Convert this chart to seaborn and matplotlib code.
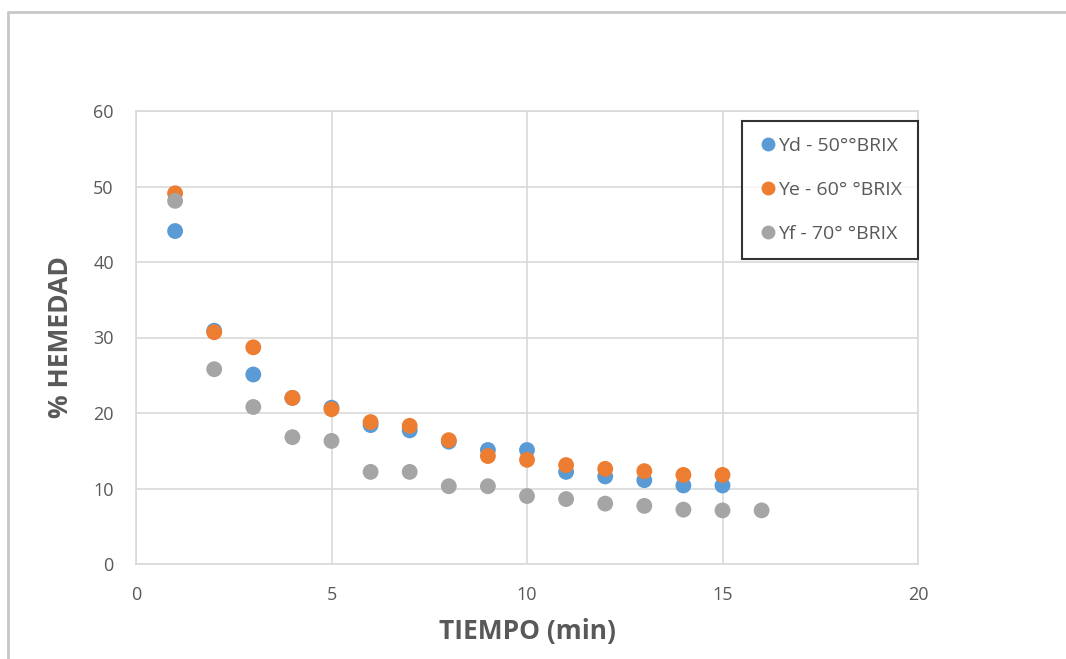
import matplotlib
matplotlib.use("Agg")
import matplotlib.pyplot as plt
import seaborn as sns
import pandas as pd
from matplotlib.lines import Line2D

tiempo_d = [1, 2, 3, 4, 5, 6, 7, 8, 9, 10, 11, 12, 13, 14, 15]
yd = [44.1, 30.9, 25.1, 22.0, 20.7, 18.4, 17.7, 16.2, 15.1, 15.1, 12.2, 11.6, 11.1, 10.4, 10.4]

tiempo_e = [1, 2, 3, 4, 5, 6, 7, 8, 9, 10, 11, 12, 13, 14, 15]
ye = [49.1, 30.7, 28.7, 22.0, 20.5, 18.8, 18.3, 16.4, 14.3, 13.8, 13.1, 12.6, 12.3, 11.8, 11.8]

tiempo_f = [1, 2, 3, 4, 5, 6, 7, 8, 9, 10, 11, 12, 13, 14, 15, 16]
yf = [48.1, 25.8, 20.8, 16.8, 16.3, 12.2, 12.2, 10.3, 10.3, 9.0, 8.6, 8.0, 7.7, 7.2, 7.1, 7.1]

series_names = ["Yd - 50°°BRIX", "Ye - 60° °BRIX", "Yf - 70° °BRIX"]
colors = ["#5B9BD5", "#ED7D31", "#A5A5A5"]

df = pd.concat([
    pd.DataFrame({"t": tiempo_d, "h": yd, "s": series_names[0]}),
    pd.DataFrame({"t": tiempo_e, "h": ye, "s": series_names[1]}),
    pd.DataFrame({"t": tiempo_f, "h": yf, "s": series_names[2]}),
])

sns.set_theme(style="white")
plt.rcParams["font.family"] = ["Open Sans", "DejaVu Sans"]

fig = plt.figure(figsize=(10.66, 6.59), dpi=100)
ax = fig.add_axes([136/1066, 1-564/659, (918-136)/1066, (564-111)/659])

sns.scatterplot(data=df, x="t", y="h", hue="s", palette=colors,
                hue_order=series_names, s=130, edgecolor="none",
                linewidth=0, ax=ax, legend=False, zorder=3)

ax.set_xlim(0, 20)
ax.set_ylim(0, 60)
ax.set_xticks([0, 5, 10, 15, 20])
ax.set_yticks([0, 10, 20, 30, 40, 50, 60])
ax.grid(True, color="#D9D9D9", linewidth=1.2)
ax.set_axisbelow(True)
for sp in ax.spines.values():
    sp.set_color("#D9D9D9")
    sp.set_linewidth(1.2)
ax.tick_params(axis="both", length=0, labelsize=13, labelcolor="#595959")
ax.tick_params(axis="x", pad=16)
ax.tick_params(axis="y", pad=16)

ax.set_xlabel("TIEMPO (min)", fontsize=19, fontweight="bold", color="#595959", labelpad=10)
ax.set_ylabel("% HEMEDAD", fontsize=19, fontweight="bold", color="#595959", labelpad=14)

handles = [Line2D([0], [0], marker="o", linestyle="none", markersize=10,
                  markerfacecolor=c, markeredgecolor="none") for c in colors]
leg = ax.legend(handles, series_names, loc="upper right",
                bbox_to_anchor=(1.0, 1 - 10/453), frameon=True,
                fontsize=14, labelcolor="#595959", handletextpad=0.05,
                handlelength=1.0, borderpad=0.8, labelspacing=1.35,
                fancybox=False, borderaxespad=0.0)
leg.get_frame().set_edgecolor("black")
leg.get_frame().set_linewidth(1.5)

# outer border (top and left)
fig.add_artist(Line2D([8/1066, 1.0], [1-12/659, 1-12/659], color="#C8C8C8",
                      linewidth=2, transform=fig.transFigure))
fig.add_artist(Line2D([8/1066, 8/1066], [0, 1-12/659], color="#C8C8C8",
                      linewidth=2, transform=fig.transFigure))

fig.savefig("out.png", dpi=100, facecolor="white")
